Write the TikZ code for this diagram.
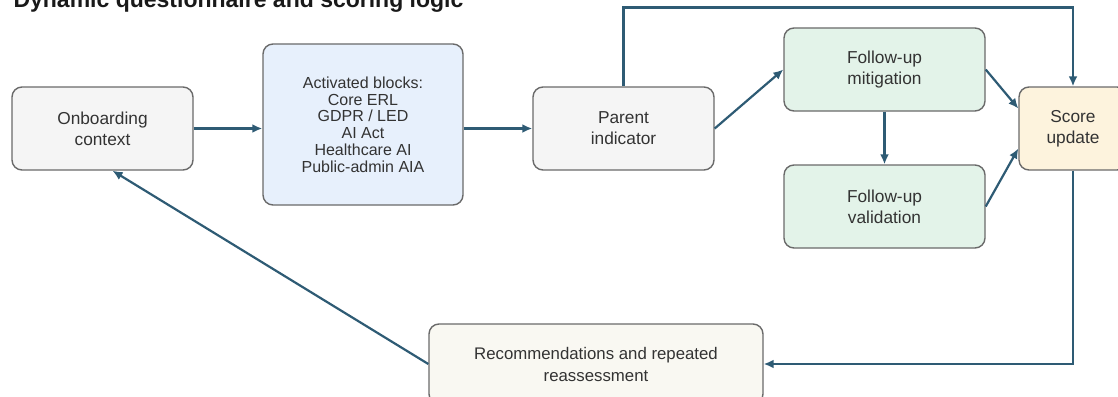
\documentclass[tikz,border=0pt]{standalone}
\usepackage{fontspec}
\setmainfont{Liberation Sans}
\usetikzlibrary{arrows.meta}
\definecolor{edgeblue}{HTML}{2E5B74}
\definecolor{boxline}{HTML}{6A6A6A}
\definecolor{textgray}{HTML}{333333}
\definecolor{greyfill}{HTML}{F5F5F5}
\definecolor{bluefill}{HTML}{E7F0FC}
\definecolor{greenfill}{HTML}{E3F3E9}
\definecolor{yellowfill}{HTML}{FDF3DD}
\definecolor{creamfill}{HTML}{F9F8F2}
\begin{document}
\begin{tikzpicture}[x=1pt,y=-1pt,
        box/.style={draw=boxline,line width=1.4pt,rounded corners=10pt,align=center,
            text=textgray,inner sep=0pt,font=\fontsize{17.3}{21}\selectfont},
        link/.style={draw=edgeblue,line width=2.2pt,-{Latex[length=10pt,width=9pt]}}
    ]
    \useasboundingbox (0,0) rectangle (1118,396);
    \node[anchor=base west,font=\fontsize{23}{27}\selectfont\bfseries,text=black!90] (title) at (10,7.5)
        {Dynamic questionnaire and scoring logic};

    % boxes
    \node[box,fill=greyfill,minimum width=181pt,minimum height=83pt] (onb) at (102.5,128.5) {Onboarding\\context};
    \node[box,fill=bluefill,minimum width=200pt,minimum height=161pt,
        font=\fontsize{16}{16.8}\selectfont] (act) at (363,124.5)
        {Activated blocks:\\Core ERL\\GDPR / LED\\AI Act\\Healthcare AI\\Public-admin AIA};
    \node[box,fill=greyfill,minimum width=181pt,minimum height=83pt] (par) at (623.5,128.5) {Parent\\indicator};
    \node[box,fill=greenfill,minimum width=201pt,minimum height=83pt] (mit) at (884.5,69.5) {Follow-up\\mitigation};
    \node[box,fill=greenfill,minimum width=201pt,minimum height=83pt] (val) at (884.5,206.5) {Follow-up\\validation};
    \node[box,fill=yellowfill,minimum width=108pt,minimum height=83pt] (sco) at (1073,128.5) {Score\\update};
    \node[box,fill=creamfill,minimum width=334pt,minimum height=80pt,
        font=\fontsize{16.8}{22}\selectfont] (rec) at (596,364) {Recommendations and repeated\\reassessment};

    \coordinate (topline) at (0,7.5);

    % connectors
    \draw[link] (onb.east) -- (onb.east -| act.west);
    \draw[link] (act.east |- par.west) -- (par.west);
    \draw[link] (par.east) -- (mit.west);
    \draw[link] (mit) -- (val);
    \draw[link] (mit.east) -- ([yshift=20pt]sco.west);
    \draw[link] (val.east) -- ([yshift=-20pt]sco.west);
    \draw[link] (par.north) -- (par.north |- topline) -- (sco.north |- topline) -- (sco.north);
    \draw[link] (sco.south) -- (sco.south |- rec.east) -- (rec.east);
    \draw[link] (rec.west) -- ([xshift=10pt]onb.south);
\end{tikzpicture}
\end{document}
